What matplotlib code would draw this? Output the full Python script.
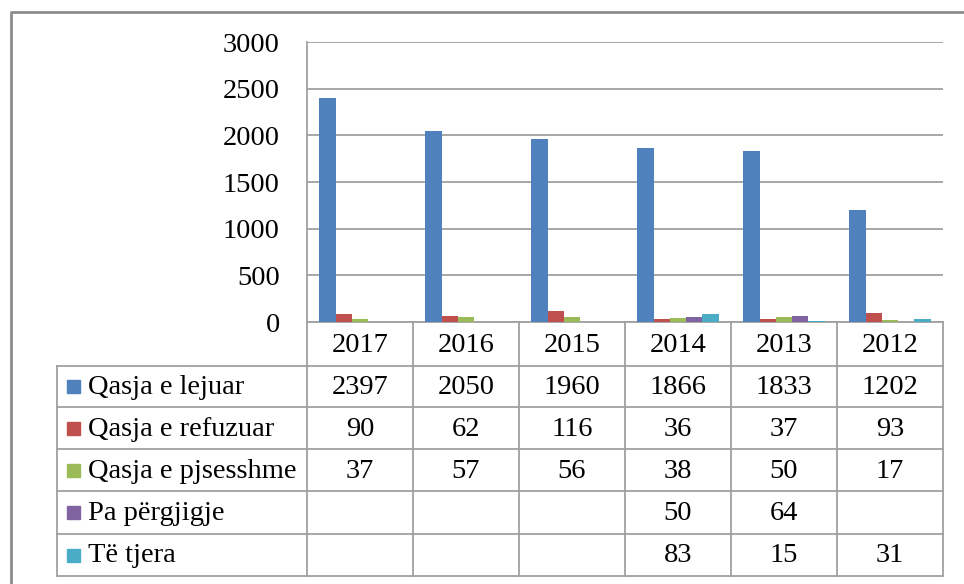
import matplotlib
matplotlib.use("Agg")
import matplotlib.pyplot as plt
import numpy as np

years = ["2017", "2016", "2015", "2014", "2013", "2012"]
series_names = ["Qasja e lejuar", "Qasja e refuzuar", "Qasja e pjsesshme", "Pa përgjigje", "Të tjera"]
lejuar = [2397, 2050, 1960, 1866, 1833, 1202]
refuzuar = [90, 62, 116, 36, 37, 93]
pjesshme = [37, 57, 56, 38, 50, 17]
pa_pergjigje = [None, None, None, 50, 64, None]
te_tjera = [None, None, None, 83, 15, 31]
yticks = [0, 500, 1000, 1500, 2000, 2500, 3000]

series = [lejuar, refuzuar, pjesshme, pa_pergjigje, te_tjera]
colors = ["#4F81BD", "#C0504D", "#9BBB59", "#8064A2", "#4BACC6"]

plt.rcParams['font.family'] = ['Liberation Serif', 'DejaVu Serif']
FS = 20.5
W, H = 964, 584
fig = plt.figure(figsize=(W / 100, H / 100), dpi=100)

# pixel layout
px_left, px_right, px_top, px_bottom = 307, 943, 42, 322
ax = fig.add_axes([px_left / W, 1 - px_bottom / H, (px_right - px_left) / W, (px_bottom - px_top) / H])

n = len(series)
bw = 1 / 6.5
x = np.arange(len(years))
for i, (vals, c) in enumerate(zip(series, colors)):
    v = np.array([np.nan if a is None else a for a in vals], dtype=float)
    ax.bar(x + (i - (n - 1) / 2) * bw, v, width=bw, color=c, zorder=3)

ax.set_xlim(-0.5, len(years) - 0.5)
ax.set_ylim(0, 3000)
ax.set_yticks(yticks)
ax.set_yticklabels([str(t) for t in yticks], fontsize=FS)
ax.tick_params(axis='y', length=0, pad=19.5)
ax.set_xticks([])
ax.grid(axis='y', color='#A0A0A0', linewidth=1.3, zorder=0)
for s in ['top', 'right']:
    ax.spines[s].set_visible(False)
ax.spines['left'].set_color('#A0A0A0')
ax.spines['bottom'].set_color('#A0A0A0')
ax.spines['left'].set_linewidth(1.3)
ax.spines['bottom'].set_linewidth(1.3)

# overlay for table and outer border
ov = fig.add_axes([0, 0, 1, 1], zorder=5)
ov.set_xlim(0, W)
ov.set_ylim(H, 0)
ov.axis('off')
ov.patch.set_alpha(0)

lc = '#A0A0A0'
lw = 1.3
# outer border
ov.plot([11, 11, W + 5], [H + 5, 12, 12], color='#8C8C8C', linewidth=2.0, solid_capstyle='butt')

tbl_left = 57
row_edges = [322, 366, 407, 449, 491, 534, 576]
col_w = (px_right - px_left) / len(years)
col_edges = [px_left + k * col_w for k in range(len(years) + 1)]

for k, ce in enumerate(col_edges):
    ov.plot([ce, ce], [row_edges[0], row_edges[-1]], color=lc, linewidth=lw)
ov.plot([tbl_left, tbl_left], [row_edges[1], row_edges[-1]], color=lc, linewidth=lw)
for r in row_edges[1:]:
    ov.plot([tbl_left, px_right], [r, r], color=lc, linewidth=lw)

# header
hy = (row_edges[0] + row_edges[1]) / 2
for k, yr in enumerate(years):
    ov.text((col_edges[k] + col_edges[k + 1]) / 2, hy + 1, yr, ha='center', va='center', fontsize=FS)

for i, (name, vals, c) in enumerate(zip(series_names, series, colors)):
    cy = (row_edges[i + 1] + row_edges[i + 2]) / 2
    ov.add_patch(plt.Rectangle((67, cy - 6.5), 13, 13, color=c))
    ov.text(88, cy + 1, name, ha='left', va='center', fontsize=FS)
    for k, v in enumerate(vals):
        if v is not None:
            ov.text((col_edges[k] + col_edges[k + 1]) / 2, cy + 1, str(v), ha='center', va='center', fontsize=FS)

fig.savefig("out.png", dpi=100)
